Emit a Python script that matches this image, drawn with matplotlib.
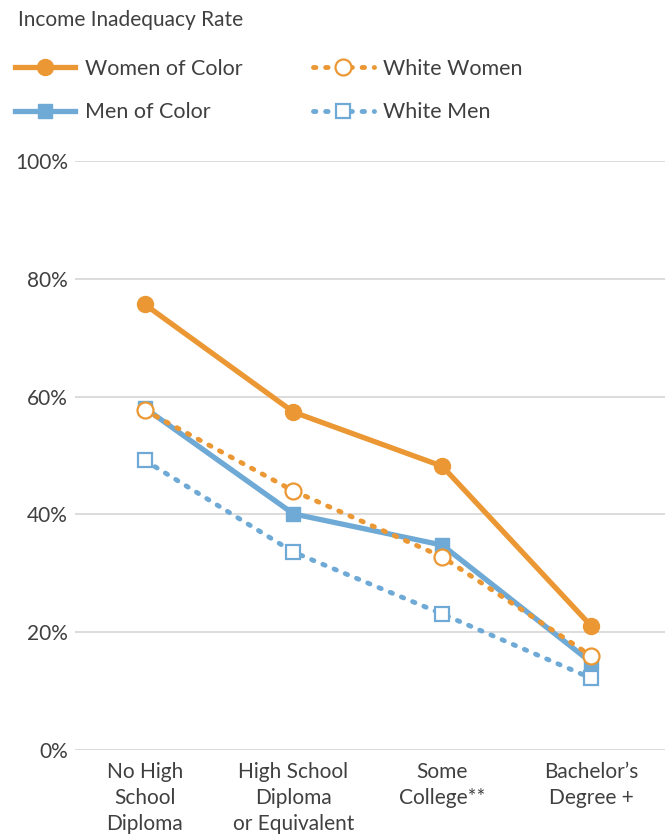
import numpy as np
import matplotlib.pyplot as plt

plt.rcParams['font.family'] = ['Lato', 'DejaVu Sans']

categories = ['No High\nSchool\nDiploma', 'High School\nDiploma\nor Equivalent',
              'Some\nCollege**', 'Bachelor\u2019s\nDegree +']
women_of_color = [75.7, 57.4, 48.2, 21.1]
white_women = [57.7, 44.0, 32.8, 16.0]
men_of_color = [58.1, 40.1, 34.8, 14.9]
white_men = [49.2, 33.6, 23.1, 12.2]

orange = '#eb9834'
blue = '#6eaad5'
txt = '#404040'
dots = (0, (0.5, 2.0))

fig = plt.figure(figsize=(6.68, 8.36), dpi=100)
ax = fig.add_axes([0.112, 0.103, 0.884, 0.704])
x = np.arange(len(categories))

h_wm, = ax.plot(x, white_men, color=blue, lw=3.5, linestyle=dots, dash_capstyle='round',
                marker='s', markersize=10.5, markerfacecolor='white', markeredgecolor=blue,
                markeredgewidth=1.6, label='White Men')
h_mc, = ax.plot(x, men_of_color, color=blue, lw=3.8, marker='s', markersize=10.5,
                label='Men of Color')
h_ww, = ax.plot(x, white_women, color=orange, lw=3.5, linestyle=dots, dash_capstyle='round',
                marker='o', markersize=11.5, markerfacecolor='white', markeredgecolor=orange,
                markeredgewidth=1.6, label='White Women')
h_wc, = ax.plot(x, women_of_color, color=orange, lw=3.8, marker='o', markersize=11.5,
                label='Women of Color')

ax.set_ylim(0, 100)
ax.set_xlim(-0.47, 3.5)
ax.set_yticks([0, 20, 40, 60, 80, 100])
ax.set_yticklabels([f'{v}%' for v in [0, 20, 40, 60, 80, 100]])
ax.set_xticks(x)
ax.set_xticklabels(categories, linespacing=1.36)
ax.tick_params(length=0, labelsize=15, labelcolor=txt)
ax.tick_params(axis='y', pad=5)
ax.tick_params(axis='x', pad=9)
ax.grid(axis='y', color='#d9d9d9', lw=1.3)
ax.set_axisbelow(True)
for s in ax.spines.values():
    s.set_visible(False)

fig.text(0.027, 0.976, 'Income Inadequacy Rate', fontsize=15, color=txt, va='center')
leg = fig.legend(handles=[h_wc, h_mc, h_ww, h_wm], ncol=2, loc='upper left',
                 bbox_to_anchor=(0.022, 0.930), frameon=False, fontsize=15.5,
                 handlelength=2.8, handletextpad=0.45, columnspacing=3.3,
                 labelspacing=1.1, borderaxespad=0, borderpad=0)
for t in leg.get_texts():
    t.set_color(txt)

plt.savefig('out.png', dpi=100)
